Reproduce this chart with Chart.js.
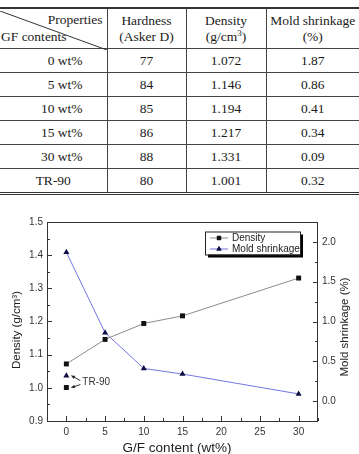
<!DOCTYPE html>
<html>
<head>
<meta charset="utf-8">
<script src="https://cdn.jsdelivr.net/npm/chart.js@4.4.1/dist/chart.umd.min.js"></script>
<style>
  html, body { margin: 0; padding: 0; background: #fff; }
  body { width: 359px; height: 454px; position: relative; overflow: hidden; }
  #tbl { position: absolute; left: 0; top: 7px; width: 359px; }
  table { border-collapse: collapse; width: 359px; table-layout: fixed;
          font-family: "Liberation Serif", "Times New Roman", serif; font-size: 13.5px; color: #1a1a1a; }
  table { border-top: 2px solid #333; border-bottom: 3px double #333; }
  td { border-bottom: 1px solid #444; border-left: 1px solid #444; text-align: center; padding: 0; height: 23px; line-height: 16px; }
  td:first-child { border-left: none; }
  tr.head td { height: 39px; }
  td.gf { text-align: right; padding-right: 24px; }
  td.tr { text-align: center; }
  .diag { position: absolute; left: 0; top: 2px; width: 107px; height: 39px; }
  .hcell { position: relative; }
  .prop { position: absolute; right: 4px; top: 3px; }
  .gfc { position: absolute; left: 1px; bottom: 3px; }
  #wrap { position: absolute; left: 0; top: 200px; width: 359px; height: 254px; }
</style>
</head>
<body>
<div id="tbl">
  <table>
    <colgroup><col style="width:107px"><col style="width:79px"><col style="width:80px"><col style="width:93px"></colgroup>
    <tbody id="tbody">
      <tr class="head">
        <td class="hcell">
          <svg class="diag" viewBox="0 0 107 39"><line x1="0" y1="0" x2="107" y2="39" stroke="#333" stroke-width="1"/></svg>
          <span class="prop">Properties</span><span class="gfc">GF contents</span>
        </td>
        <td>Hardness<br>(Asker D)</td>
        <td>Density<br>(g/cm<sup style="font-size:9px;line-height:0">3</sup>)</td>
        <td>Mold shrinkage<br>(%)</td>
      </tr>
    </tbody>
  </table>
</div>
<div id="wrap"><canvas id="chart" width="359" height="254"></canvas></div>
<script>
// Data
const gfContent = [0, 5, 10, 15, 30];
const gfLabels = ['0 wt%', '5 wt%', '10 wt%', '15 wt%', '30 wt%'];
const hardness = [77, 84, 85, 86, 88];
const density = [1.072, 1.146, 1.194, 1.217, 1.331];
const shrinkage = [1.87, 0.86, 0.41, 0.34, 0.09];
const tr90Label = 'TR-90';
const tr90Hardness = 80;
const tr90Density = 1.001;
const tr90Shrinkage = 0.32;

// Tick labels
const xTicks = [0, 5, 10, 15, 20, 25, 30];
const yTicks = [0.9, 1.0, 1.1, 1.2, 1.3, 1.4, 1.5];
const y2Ticks = [0.0, 0.5, 1.0, 1.5, 2.0];

// Table rows
const tbody = document.getElementById('tbody');
function addRow(label, h, d, s, cls) {
    const tr = document.createElement('tr');
    tr.innerHTML = `<td class="${cls}">${label}</td><td>${h}</td><td>${d.toFixed(3)}</td><td>${s.toFixed(2)}</td>`;
    tbody.appendChild(tr);
}
gfLabels.forEach((lab, i) => addRow(lab, hardness[i], density[i], shrinkage[i], 'gf'));
addRow(tr90Label, tr90Hardness, tr90Density, tr90Shrinkage, 'tr');

// Colors
const densLine = '#8a8a8a';
const densMark = '#111111';
const shrLine = '#7474e2';
const shrMark = '#0e0e45';
const axisCol = '#333333';
const tickFont = { family: 'Liberation Sans, Arial, sans-serif', size: 10 };

// Inward ticks, frame, titles, legend, TR-90 note
const decor = {
    id: 'decor',
    afterDraw(chart) {
        const { ctx, chartArea: a, scales } = chart;
        const x = scales.x, y = scales.y, y2 = scales.y2;
        ctx.save();
        ctx.strokeStyle = axisCol;
        ctx.lineWidth = 1;
        ctx.strokeRect(a.left + 0.5, a.top + 0.5, a.right - a.left - 1, a.bottom - a.top);

        const line = (x1, y1, x2, y2_) => { ctx.beginPath(); ctx.moveTo(x1, y1); ctx.lineTo(x2, y2_); ctx.stroke(); };
        // x ticks
        for (let v = 0; v <= 32.5; v += 2.5) {
            const px = Math.round(x.getPixelForValue(v)) + 0.5;
            const major = v % 5 === 0;
            line(px, a.bottom, px, a.bottom - (major ? 5 : 3));
        }
        // left ticks
        for (let v = 0.9; v <= 1.5001; v += 0.05) {
            const py = Math.round(y.getPixelForValue(v)) + 0.5;
            const major = Math.abs(Math.round(v * 10) - v * 10) < 0.01;
            line(a.left, py, a.left + (major ? 5 : 3), py);
        }
        // right ticks
        for (let v = -0.25; v <= 2.25001; v += 0.25) {
            const py = Math.round(y2.getPixelForValue(v)) + 0.5;
            const major = Math.abs(Math.round(v * 2) - v * 2) < 0.01;
            line(a.right, py, a.right - (major ? 5 : 3), py);
        }

        // axis titles
        ctx.fillStyle = '#222';
        ctx.textAlign = 'center';
        ctx.textBaseline = 'middle';
        ctx.font = '13.5px "Liberation Sans", Arial, sans-serif';
        ctx.fillText('G/F content (wt%)', a.left + 130, a.bottom + 27);
        ctx.font = '11.5px "Liberation Sans", Arial, sans-serif';
        ctx.save();
        ctx.translate(17, a.top + 108);
        ctx.rotate(-Math.PI / 2);
        ctx.fillText('Density (g/cm\u00B3)', 0, 0);
        ctx.restore();
        ctx.save();
        ctx.translate(a.right + 27, a.top + 105);
        ctx.rotate(-Math.PI / 2);
        ctx.fillText('Mold shrinkage (%)', 0, 0);
        ctx.restore();

        // legend
        const lx = a.right - 113, ly = a.top + 9.5, lw = 95, lh = 23;
        ctx.fillStyle = '#000';
        ctx.fillRect(lx + 3, ly + 3, lw, lh);
        ctx.fillStyle = '#fff';
        ctx.fillRect(lx, ly, lw, lh);
        ctx.strokeStyle = '#222';
        ctx.strokeRect(lx + 0.5, ly + 0.5, lw, lh);
        const entries = [
            { text: 'Density', line: densLine, mark: densMark, style: 'rect' },
            { text: 'Mold shrinkage', line: shrLine, mark: shrMark, style: 'triangle' }
        ];
        ctx.font = '10px "Liberation Sans", Arial, sans-serif';
        ctx.textAlign = 'left';
        entries.forEach((e, i) => {
            const cy = ly + 6.5 + i * 11;
            ctx.strokeStyle = e.line;
            line(lx + 5, cy, lx + 23, cy);
            ctx.fillStyle = e.mark;
            Chart.helpers.drawPoint(ctx, { pointStyle: e.style, radius: 3, borderWidth: 0 }, lx + 14, cy);
            ctx.fill();
            ctx.fillStyle = '#222';
            ctx.fillText(e.text, lx + 27, cy + 0.5);
        });

        // TR-90 note with arrows
        const px0 = x.getPixelForValue(0);
        const pTri = y2.getPixelForValue(tr90Shrinkage);
        const pSq = y.getPixelForValue(tr90Density);
        const tx = px0 + 16, ty = (pTri + pSq) / 2 + 1;
        ctx.fillStyle = '#333';
        ctx.font = '10px "Liberation Sans", Arial, sans-serif';
        ctx.fillText(tr90Label, tx, ty);
        ctx.strokeStyle = '#333';
        [[pTri, -2], [pSq, 2]].forEach(([py, off]) => {
            const sx = tx - 2, sy = ty + off;
            const ex = px0 + 5, ey = py;
            line(sx, sy, ex, ey);
            const ang = Math.atan2(ey - sy, ex - sx);
            ctx.beginPath();
            ctx.moveTo(ex, ey);
            ctx.lineTo(ex - 4 * Math.cos(ang - 0.45), ey - 4 * Math.sin(ang - 0.45));
            ctx.lineTo(ex - 4 * Math.cos(ang + 0.45), ey - 4 * Math.sin(ang + 0.45));
            ctx.closePath();
            ctx.fillStyle = '#222';
            ctx.fill();
        });
        ctx.restore();
    }
};

const ctx = document.getElementById('chart').getContext('2d');
new Chart(ctx, {
    type: 'scatter',
    data: {
        datasets: [
            {
                label: 'Density',
                data: gfContent.map((g, i) => ({ x: g, y: density[i] })),
                yAxisID: 'y',
                showLine: true,
                borderColor: densLine,
                borderWidth: 1,
                pointStyle: 'rect',
                pointRadius: 3.5,
                pointBackgroundColor: densMark,
                pointBorderColor: densMark,
                pointBorderWidth: 0
            },
            {
                label: 'Mold shrinkage',
                data: gfContent.map((g, i) => ({ x: g, y: shrinkage[i] })),
                yAxisID: 'y2',
                showLine: true,
                borderColor: shrLine,
                borderWidth: 1,
                pointStyle: 'triangle',
                pointRadius: 3.5,
                pointBackgroundColor: shrMark,
                pointBorderColor: shrMark,
                pointBorderWidth: 0
            },
            {
                label: 'TR-90 density',
                data: [{ x: 0, y: tr90Density }],
                yAxisID: 'y',
                pointStyle: 'rect',
                pointRadius: 3.5,
                pointBackgroundColor: densMark,
                pointBorderWidth: 0
            },
            {
                label: 'TR-90 shrinkage',
                data: [{ x: 0, y: tr90Shrinkage }],
                yAxisID: 'y2',
                pointStyle: 'triangle',
                pointRadius: 3.5,
                pointBackgroundColor: shrMark,
                pointBorderWidth: 0
            }
        ]
    },
    options: {
        responsive: false,
        animation: false,
        layout: { padding: { top: 22, left: 0, right: 0, bottom: 0 } },
        plugins: { legend: { display: false }, tooltip: { enabled: false } },
        scales: {
            x: {
                type: 'linear',
                min: -2.5,
                max: 32.5,
                afterBuildTicks: s => { s.ticks = xTicks.map(v => ({ value: v })); },
                afterFit: s => { s.height = 33; },
                grid: { display: false, drawTicks: false },
                border: { display: false },
                ticks: { color: axisCol, font: tickFont, padding: 5, maxRotation: 0 }
            },
            y: {
                position: 'left',
                min: 0.9,
                max: 1.5,
                afterBuildTicks: s => { s.ticks = yTicks.map(v => ({ value: v })); },
                afterFit: s => { s.width = 47; },
                grid: { display: false, drawTicks: false },
                border: { display: false },
                ticks: { color: axisCol, font: tickFont, padding: 4, callback: v => v.toFixed(1) }
            },
            y2: {
                position: 'right',
                min: -0.25,
                max: 2.25,
                afterBuildTicks: s => { s.ticks = y2Ticks.map(v => ({ value: v })); },
                afterFit: s => { s.width = 41; },
                grid: { display: false, drawTicks: false },
                border: { display: false },
                ticks: { color: axisCol, font: tickFont, padding: 4, callback: v => v.toFixed(1) }
            }
        }
    },
    plugins: [decor]
});
</script>
</body>
</html>
